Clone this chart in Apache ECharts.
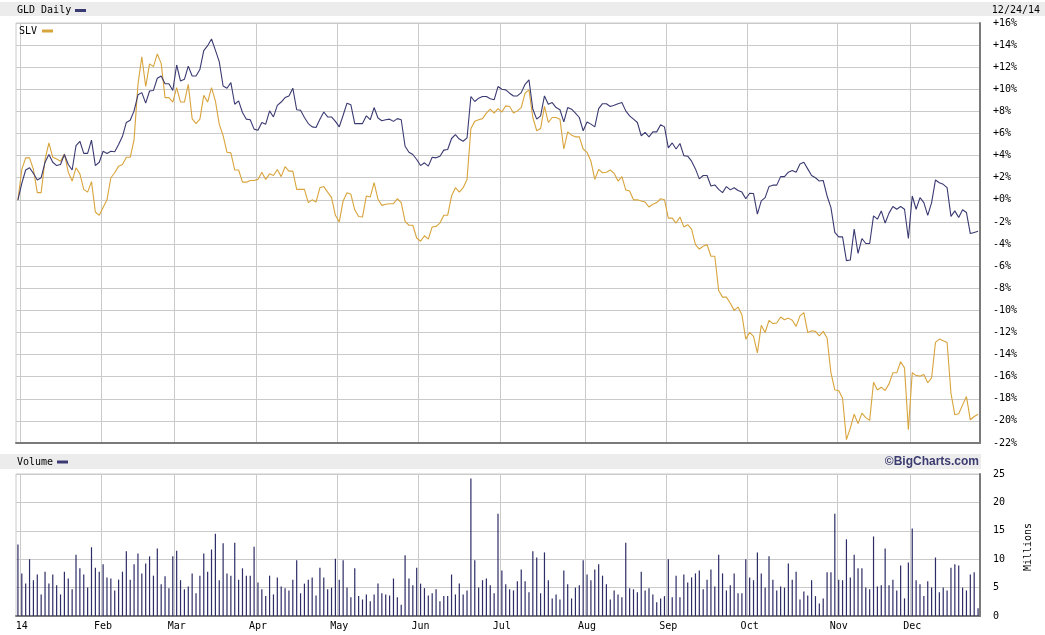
<!DOCTYPE html>
<html><head><meta charset="utf-8">
<script src="https://cdn.jsdelivr.net/npm/echarts@6/dist/echarts.min.js"></script>
<style>html,body{margin:0;padding:0;background:#fff}#c{width:1045px;height:635px}</style>
</head><body><div id="c"></div><script>
// % change from 12/31/13 close
const gldPct = [0,1.5,2.7,2.9,2.4,1.8,2.0,3.4,4.1,3.4,
 3.1,3.2,4.1,3.2,2.7,4.9,5.3,4.2,4.2,5.4,
 3.1,3.4,4.4,4.2,4.4,4.35,5.0,5.75,7.0,7.2,
 8.05,9.5,9.7,8.75,9.85,9.9,11.0,11.2,10.5,10.5,
 9.9,12.2,10.75,10.9,12.1,11.2,11.2,11.8,13.5,13.95,
 14.55,13.55,12.5,10.3,10.1,10.6,8.65,8.95,7.9,7.3,
 7.25,6.4,6.3,7.0,6.85,8.05,7.5,8.55,8.85,9.25,
 9.4,10.1,8.15,8.1,7.45,6.9,6.6,6.55,7.3,7.95,
 7.5,7.5,7.1,6.6,7.65,8.75,8.6,6.9,6.9,6.9,
 7.6,7.25,8.35,7.4,7.15,7.25,7.3,7.1,7.35,7.25,
 4.85,4.3,4.1,3.65,3.1,3.35,3.05,3.85,3.8,3.95,
 4.5,4.55,5.55,5.9,5.5,5.3,5.6,9.35,8.9,9.2,
 9.35,9.35,9.15,9.05,10.25,10.0,9.95,9.65,9.4,9.4,
 9.7,10.45,10.85,8.2,7.3,7.6,9.4,8.65,8.8,8.35,
 8.15,7.05,8.35,8.2,7.85,7.45,6.25,7.05,6.85,6.6,
 8.25,8.7,8.7,8.45,8.55,8.7,8.8,8.05,7.6,7.3,
 7.0,5.8,6.1,5.7,6.15,6.15,6.8,6.6,4.7,5.15,
 4.6,5.1,4.0,3.95,3.5,2.8,1.9,2.2,2.2,1.25,
 1.35,0.95,0.65,1.2,0.9,1.1,0.85,0.7,0.1,0.6,
 0.57,-1.3,-0.1,0.2,1.2,1.33,1.33,2.1,2.1,2.5,
 2.65,2.5,3.25,3.4,2.8,2.2,2.0,1.7,1.75,0.35,
 -0.7,-2.95,-3.35,-3.35,-5.5,-5.45,-2.65,-4.85,-3.5,-3.95,
 -3.95,-1.45,-1.75,-1.0,-2.1,-1.2,-0.6,-0.85,-0.6,-0.85,
 -3.5,0.35,-0.85,0.2,-0.25,-1.4,-0.25,1.8,1.55,1.4,
 1.1,-1.5,-1.0,-1.6,-0.9,-1.15,-3.05,-2.95,-2.85];

const slvPct = [0,2.75,3.8,3.8,2.75,0.65,0.65,3.65,5.15,3.85,
 3.7,3.5,4.15,2.5,1.7,2.9,2.35,0.95,0.7,1.65,
 -1.1,-1.4,-0.7,0.0,2.0,2.45,3.05,3.2,3.85,3.85,
 5.45,10.45,12.95,10.25,12.3,12.05,13.2,12.35,9.25,9.25,
 8.85,10.15,8.85,8.85,10.45,7.35,6.9,7.3,9.45,8.85,
 10.15,8.95,6.85,5.8,4.3,4.25,2.7,2.7,1.6,1.6,
 1.75,1.75,1.85,2.5,1.85,2.35,2.2,2.75,2.1,3.0,
 2.6,2.6,0.95,0.95,0.95,-0.25,0.0,-0.2,1.1,1.2,
 0.7,0.2,-1.4,-2.0,-0.1,0.65,0.5,-0.9,-1.5,-1.55,
 0.35,0.25,1.55,0.05,-0.5,-0.4,-0.35,-0.35,0.1,-0.25,
 -1.95,-2.3,-2.3,-3.45,-3.75,-3.25,-3.55,-2.45,-2.4,-2.1,
 -1.4,-1.4,0.35,1.1,0.7,1.1,1.85,6.45,7.1,7.25,
 7.35,7.85,8.2,7.85,8.25,7.95,8.5,8.45,7.85,8.05,
 8.35,9.65,9.95,7.45,6.25,6.45,8.45,7.0,7.45,7.45,
 7.3,4.6,6.15,5.85,5.7,5.7,4.6,4.3,3.5,1.85,
 2.75,2.45,2.5,2.7,2.4,1.7,2.1,0.9,0.8,0.0,
 0.0,-0.1,-0.2,-0.65,-0.4,-0.25,0.1,0.0,-1.65,-1.65,
 -2.1,-1.55,-2.45,-2.25,-2.65,-4.05,-4.45,-4.2,-4.05,-5.1,
 -5.1,-8.2,-8.8,-8.8,-9.35,-10.0,-9.7,-10.4,-12.6,-12.0,
 -12.35,-13.85,-11.35,-12.0,-10.9,-11.2,-11.15,-10.6,-10.85,-10.7,
 -10.9,-11.45,-10.5,-10.2,-12.0,-11.85,-11.9,-12.3,-11.9,-12.5,
 -15.65,-17.2,-17.25,-17.95,-21.7,-20.65,-19.4,-20.25,-19.3,-19.7,
 -19.95,-16.5,-17.2,-16.95,-17.25,-16.65,-15.65,-15.65,-14.65,-15.2,
 -20.8,-15.65,-15.9,-15.95,-15.8,-16.55,-16.1,-12.9,-12.6,-12.75,
 -12.9,-17.5,-19.45,-19.35,-18.55,-17.8,-19.9,-19.6,-19.4];

// GLD volume, millions
const volumeM = [12.6,7.5,5.7,10.0,6.3,7.3,3.8,7.8,5.7,7.3,
 5.4,3.8,7.8,6.6,4.7,10.8,8.4,7.3,5.0,12.1,
 8.5,7.8,9.1,6.8,6.6,4.5,6.4,7.8,11.4,6.4,
 9.1,11.0,7.5,9.25,10.5,7.1,11.9,5.6,7.0,4.9,
 10.5,11.5,6.3,4.7,5.2,7.5,4.0,7.1,11.0,7.8,
 11.7,14.5,6.3,12.8,7.5,7.1,12.9,6.4,8.4,7.1,
 7.1,12.2,5.9,4.7,3.5,7.1,3.8,6.8,5.2,4.9,
 4.5,6.4,9.8,4.0,5.7,6.4,6.8,3.6,8.5,6.8,
 4.7,5.0,10.1,6.4,9.8,5.0,3.3,8.4,3.5,2.9,
 3.8,2.6,3.8,5.7,4.0,3.8,3.6,6.6,3.3,2.0,
 10.7,6.6,5.4,8.5,5.7,4.9,3.6,4.0,4.7,2.6,
 3.5,3.5,7.3,3.8,5.7,3.8,4.5,24.2,9.8,5.0,
 6.3,6.6,5.4,4.0,18.0,8.0,5.6,4.7,4.5,6.1,
 8.2,6.1,4.2,11.4,10.3,4.0,11.2,6.3,3.1,3.8,
 2.9,8.0,5.6,3.1,5.0,5.4,9.8,7.3,6.3,8.2,
 9.1,7.1,5.6,2.9,4.5,3.8,3.3,12.9,4.9,4.7,
 4.2,7.8,4.5,4.9,3.8,2.4,3.1,3.5,10.0,3.3,
 7.1,3.3,7.3,5.9,6.8,7.5,8.0,4.7,6.4,8.2,
 5.2,10.8,7.5,4.5,5.4,7.5,4.0,4.0,10.0,6.8,
 6.3,11.2,7.5,5.0,10.5,6.4,4.5,5.2,5.0,9.25,
 6.4,7.8,2.9,4.3,3.6,6.3,3.5,2.2,3.1,7.7,
 7.7,18.0,6.4,6.3,13.5,6.8,10.8,8.4,8.4,5.0,
 4.7,14.0,5.2,5.4,11.9,5.4,6.4,4.5,8.9,3.1,
 9.4,15.4,6.3,5.6,3.5,6.1,5.0,10.3,4.2,5.0,
 4.5,8.5,9.1,8.9,5.0,4.5,7.3,7.7,1.35];

const monthLabels = ['14','Feb','Mar','Apr','May','Jun','Jul','Aug','Sep','Oct','Nov','Dec'];
const holidays = ['2014-01-01','2014-01-20','2014-02-17','2014-04-18','2014-05-26','2014-07-04','2014-09-01','2014-11-27'];

// trading days 12/31/13 .. 12/24/14
const dates = [];
for (let t = Date.UTC(2013,11,31); t <= Date.UTC(2014,11,24); t += 86400000) {
  const d = new Date(t); const wd = d.getUTCDay();
  const s = d.toISOString().slice(0,10);
  if (wd === 0 || wd === 6 || holidays.includes(s)) continue;
  dates.push(s);
}
const isMonthStart = (i) => i > 0 && dates[i].slice(5,7) !== dates[i-1].slice(5,7);
const monthLabel = (v) => monthLabels[parseInt(v.slice(5,7),10) - 1];

const MONO = 'DejaVu Sans Mono';
const GRID_C = '#cacaca', DARK = '#7a7a7a';
const NAVY = '#3a3a72', GOLD = '#d8a43c';

const chart = echarts.init(document.getElementById('c'), null, {renderer:'canvas'});
chart.setOption({
  animation: false,
  backgroundColor: '#fff',
  grid: [
    {left:16, right:65, top:23, height:420, show:true, borderColor:GRID_C, borderWidth:1},
    {left:16, right:65, top:474, height:142, show:true, borderColor:GRID_C, borderWidth:1}
  ],
  xAxis: [
    {type:'category', gridIndex:0, data:dates, boundaryGap:true, position:'bottom',
     axisLine:{show:true, onZero:false, lineStyle:{color:DARK, width:2}}, axisTick:{show:false}, axisLabel:{show:false},
     splitLine:{show:true, interval:(i)=>isMonthStart(i), lineStyle:{color:GRID_C, width:1}}},
    {type:'category', gridIndex:1, data:dates, boundaryGap:true, position:'bottom',
     axisLine:{show:true, onZero:false, lineStyle:{color:DARK, width:2}}, axisTick:{show:false},
     axisLabel:{show:true, interval:(i)=>isMonthStart(i), formatter:(v)=>monthLabel(v),
       fontFamily:MONO, fontSize:10, color:'#000', margin:5},
     splitLine:{show:true, interval:(i)=>isMonthStart(i), lineStyle:{color:GRID_C, width:1}}}
  ],
  yAxis: [
    {type:'value', gridIndex:0, position:'right', min:-22, max:16, interval:2,
     axisLine:{show:true, lineStyle:{color:DARK, width:2}}, axisTick:{show:false},
     axisLabel:{fontFamily:MONO, fontSize:10, color:'#000', margin:13, align:'left',
       formatter:(v)=>(v >= 0 ? '+' : '') + v + '%'},
     splitLine:{lineStyle:{color:GRID_C, width:1}}},
    {type:'value', gridIndex:1, position:'right', min:0, max:25, interval:5,
     axisLine:{show:true, lineStyle:{color:DARK, width:2}}, axisTick:{show:false},
     axisLabel:{fontFamily:MONO, fontSize:10, color:'#000', margin:13, align:'left'},
     splitLine:{lineStyle:{color:GRID_C, width:1}}}
  ],
  series: [
    {name:'SLV', type:'line', xAxisIndex:0, yAxisIndex:0, data:slvPct, showSymbol:false,
     lineStyle:{color:GOLD, width:1.1}, itemStyle:{color:GOLD}, z:3},
    {name:'GLD', type:'line', xAxisIndex:0, yAxisIndex:0, data:gldPct, showSymbol:false,
     lineStyle:{color:NAVY, width:1.1}, itemStyle:{color:NAVY}, z:4},
    {name:'Volume', type:'bar', xAxisIndex:1, yAxisIndex:1, data:volumeM, barWidth:1.2,
     itemStyle:{color:'#2c2c66'}}
  ],
  graphic: [
    {type:'rect', shape:{x:0, y:2, width:1045, height:14}, style:{fill:'#ececec'}, z:0},
    {type:'text', x:17, y:10, style:{text:'GLD Daily', font:'10px '+MONO, fill:'#000', textVerticalAlign:'middle'}},
    {type:'rect', shape:{x:75, y:9, width:11, height:3}, style:{fill:NAVY}},
    {type:'text', x:1040, y:10, style:{text:'12/24/14', font:'10px '+MONO, fill:'#000', textAlign:'right', textVerticalAlign:'middle'}},
    {type:'text', x:19, y:31, style:{text:'SLV', font:'10px '+MONO, fill:'#000', textVerticalAlign:'middle'}, z:10},
    {type:'rect', shape:{x:42, y:29.5, width:11, height:3}, style:{fill:GOLD}, z:10},
    {type:'rect', shape:{x:0, y:454, width:981, height:15}, style:{fill:'#ececec'}, z:0},
    {type:'text', x:17, y:462, style:{text:'Volume', font:'10px '+MONO, fill:'#000', textVerticalAlign:'middle'}},
    {type:'rect', shape:{x:57, y:460.5, width:11, height:3}, style:{fill:NAVY}},
    {type:'text', x:979, y:461.5, style:{text:'\u00a9BigCharts.com', font:'bold 12px "Liberation Sans"', fill:'#3b3b70', textAlign:'right', textVerticalAlign:'middle'}},
    {type:'text', x:1028, y:547, rotation:Math.PI/2, style:{text:'Millions', font:'10px '+MONO, fill:'#000', textAlign:'center', textVerticalAlign:'middle'}}
  ]
});
</script></body></html>
